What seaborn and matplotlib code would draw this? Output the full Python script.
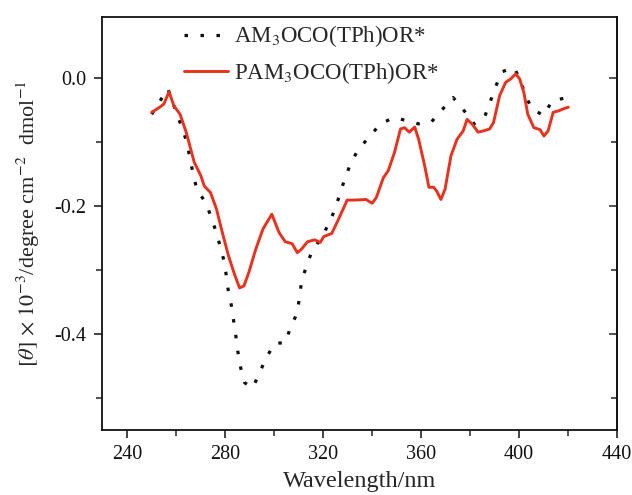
import numpy as np
import pandas as pd
import matplotlib
matplotlib.use("Agg")
import matplotlib.pyplot as plt
import seaborn as sns
from matplotlib.ticker import FixedLocator, FormatStrFormatter

# ---- data ----
pam_wl = [249.9, 253.2, 254.9, 257.0, 259.0, 261.5, 264.0, 267.3, 270.0, 271.4, 273.9, 276.4,
          278.8, 281.3, 283.5, 285.8, 287.6, 289.6, 292.4, 295.4, 299.0, 302.0, 304.5, 307.3,
          309.4, 311.0, 313.6, 316.5, 318.8, 320.2, 323.5, 326.0, 329.8, 332.6, 337.5, 340.0,
          341.7, 344.6, 346.6, 349.1, 351.6, 353.2, 355.2, 357.4, 359.0, 361.5, 363.2, 365.1,
          366.4, 368.1, 369.8, 372.2, 374.7, 377.2, 378.8, 381.0, 383.3, 385.5, 388.0, 389.6,
          392.1, 394.6, 396.6, 398.7, 400.3, 402.0, 403.6, 406.1, 408.6, 410.2, 411.9, 414.0,
          416.0, 418.5, 420.2]
pam_val = [-0.054, -0.046, -0.041, -0.022, -0.044, -0.057, -0.085, -0.132, -0.153, -0.169, -0.179, -0.205,
           -0.242, -0.278, -0.304, -0.328, -0.325, -0.304, -0.268, -0.236, -0.213, -0.242, -0.256, -0.259,
           -0.273, -0.268, -0.256, -0.253, -0.257, -0.248, -0.243, -0.223, -0.191, -0.191, -0.190, -0.196,
           -0.187, -0.156, -0.145, -0.117, -0.080, -0.078, -0.085, -0.077, -0.096, -0.138, -0.171, -0.171,
           -0.177, -0.190, -0.174, -0.122, -0.096, -0.083, -0.065, -0.073, -0.085, -0.083, -0.080, -0.070,
           -0.028, -0.007, -0.002, 0.006, -0.002, -0.023, -0.057, -0.078, -0.081, -0.091, -0.083, -0.054,
           -0.052, -0.048, -0.046]

am_wl = [249.9, 256.5, 259.0, 262.3, 264.3, 265.6, 266.9, 268.4, 272.2, 274.2, 276.4, 278.0,
         279.7, 281.3, 282.5, 283.5, 284.3, 285.1, 286.3, 287.9, 291.2, 293.7, 296.7, 300.3,
         304.5, 306.6, 309.4, 311.1, 313.1, 315.2, 319.3, 322.6, 324.8, 326.8, 328.8, 331.4,
         334.5, 339.2, 343.3, 349.1, 354.0, 359.0, 364.0, 368.1, 373.1, 377.7, 381.6, 385.9,
         390.4, 392.9, 397.9, 400.3, 402.5, 405.3, 410.2, 413.5, 418.5]
am_val = [-0.057, -0.017, -0.044, -0.078, -0.101, -0.127, -0.151, -0.175, -0.196, -0.218, -0.242, -0.265,
          -0.289, -0.335, -0.356, -0.382, -0.403, -0.427, -0.453, -0.476, -0.484, -0.463, -0.437, -0.414,
          -0.414, -0.390, -0.367, -0.320, -0.294, -0.273, -0.249, -0.226, -0.205, -0.182, -0.158, -0.132,
          -0.111, -0.091, -0.072, -0.062, -0.067, -0.072, -0.070, -0.052, -0.031, -0.052, -0.072, -0.062,
          -0.015, 0.009, 0.016, -0.001, -0.026, -0.049, -0.059, -0.036, -0.032]

labels = ["AM$_3$OCO(TPh)OR*", "PAM$_3$OCO(TPh)OR*"]
x_ticks = [240, 280, 320, 360, 400, 440]
y_ticks = [0.0, -0.2, -0.4]

# ---- style ----
sns.set_style("ticks")
plt.rcParams["font.family"] = ["Liberation Serif", "DejaVu Serif"]
plt.rcParams["mathtext.fontset"] = "stix"
plt.rcParams["axes.unicode_minus"] = False

fig = plt.figure(figsize=(6.32, 4.95), dpi=100)
ax = fig.add_axes([0.161, 0.131, 0.815, 0.835])

df_am = pd.DataFrame({"wl": am_wl, "val": am_val})
df_pam = pd.DataFrame({"wl": pam_wl, "val": pam_val})

sns.lineplot(data=df_am, x="wl", y="val", ax=ax, color="#111111", lw=2.3,
             linestyle=(0, (1.1, 3.9)), label=labels[0], sort=False)
sns.lineplot(data=df_pam, x="wl", y="val", ax=ax, color="#e8321e", lw=2.1,
             label=labels[1], sort=False)

ax.set_xlim(229.5, 440)
ax.set_ylim(-0.55, 0.095)

ax.xaxis.set_major_locator(FixedLocator(x_ticks))
ax.xaxis.set_minor_locator(FixedLocator([260, 300, 340, 380, 420]))
ax.yaxis.set_major_locator(FixedLocator(y_ticks))
ax.yaxis.set_minor_locator(FixedLocator([-0.1, -0.3, -0.5]))
ax.yaxis.set_major_formatter(FormatStrFormatter("%.1f"))

ax.tick_params(axis="both", which="major", direction="out", length=6, width=1.1,
               labelsize=14.5, colors="#111111", pad=5)
ax.tick_params(axis="both", which="minor", direction="out", length=4, width=1.1)

for s in ax.spines.values():
    s.set_linewidth(1.3)
    s.set_color("#111111")
    s.set_visible(True)

sec = ax.secondary_yaxis("right")
sec.yaxis.set_major_locator(FixedLocator(y_ticks))
sec.yaxis.set_minor_locator(FixedLocator([-0.1, -0.3, -0.5]))
sec.tick_params(which="major", direction="in", length=6, width=1.1, labelright=False)
sec.tick_params(which="minor", direction="in", length=4, width=1.1, labelright=False)
sec.spines["right"].set_linewidth(1.3)

ax.set_xlabel("Wavelength/nm", fontsize=17.5, labelpad=5)
ax.set_ylabel(r"$[\mathit{\theta}]$ $\times$ $10^{-3}$/degree cm$^{-2}$  dmol$^{-1}$",
              fontsize=16, labelpad=9)

leg = ax.legend(loc="upper left", bbox_to_anchor=(0.133, 1.017), frameon=False,
                fontsize=16.5, handlelength=1.9, handletextpad=0.3, labelspacing=0.45,
                borderaxespad=0.2)

fig.savefig("out.png", dpi=100)
